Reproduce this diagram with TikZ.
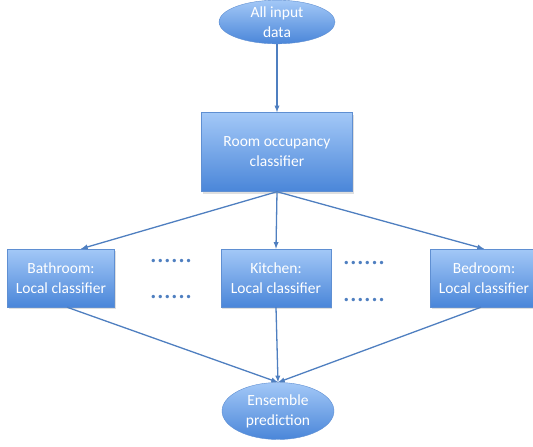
\documentclass[tikz,border=0pt]{standalone}
\usepackage{fontspec}
\setmainfont{Carlito}
\usepackage{tikz}
\usetikzlibrary{positioning,shapes.geometric,shadows}
\definecolor{boxtop}{HTML}{A3C8F7}
\definecolor{boxbot}{HTML}{4A86D9}
\definecolor{boxline}{HTML}{5F8FD2}
\definecolor{arrowcol}{HTML}{4F7FC0}
\newcommand{\dotrow}{\fontsize{28}{28}\selectfont\textcolor{arrowcol}{......}}

\begin{document}
\begin{tikzpicture}[x=1pt, y=-1pt,
  box/.style={rectangle, draw=boxline, top color=boxtop, bottom color=boxbot,
    text=white, align=center, font=\fontsize{15.5}{20}\selectfont,
    drop shadow={opacity=0.25, shadow xshift=1pt, shadow yshift=-2pt}},
  oval/.style={ellipse, draw=boxline, top color=boxtop, bottom color=boxbot,
    text=white, align=center, inner sep=0pt, font=\fontsize{15.5}{20}\selectfont},
  link/.style={draw=arrowcol, line width=1.3pt, ->, >=latex}]
  \useasboundingbox (0,0) rectangle (533,447);

  \node (input) [oval, minimum width=116, minimum height=40] at (277,22) {All input\\data};
  \node (room) [box, minimum width=151, minimum height=79] at (277,152) {Room occupancy\\classifier};

  \node (bath) [box, minimum width=107, minimum height=58] at (61,278) {Bathroom:\\Local classifier};
  \node (kitchen) [box, minimum width=110, minimum height=58] at (276,278) {Kitchen:\\Local classifier};
  \node (bed) [box, minimum width=107, minimum height=58] at (484,278) {Bedroom:\\Local classifier};

  \node (dotsA) [anchor=base, inner sep=0pt] at (171,262) {\dotrow};
  \node (dotsB) [anchor=base, inner sep=0pt] at (171,298) {\dotrow};
  \node (dotsC) [anchor=base, inner sep=0pt] at (364,264) {\dotrow};
  \node (dotsD) [anchor=base, inner sep=0pt] at (364,301) {\dotrow};

  \node (ensemble) [oval, minimum width=112, minimum height=57] at (278,411) {Ensemble\\prediction};

  \draw [link] (input) -- (room);
  \draw [link] (room.south) -- ([xshift=20pt]bath.north);
  \draw [link] (room.south) -- (kitchen.north);
  \draw [link] (room.south) -- (bed.north);

  \draw [link] ([xshift=6pt]bath.south) -- (ensemble.north);
  \draw [link] (kitchen.south) -- (ensemble.north);
  \draw [link] ([xshift=-3pt]bed.south) -- (ensemble.north);

\end{tikzpicture}
\end{document}
